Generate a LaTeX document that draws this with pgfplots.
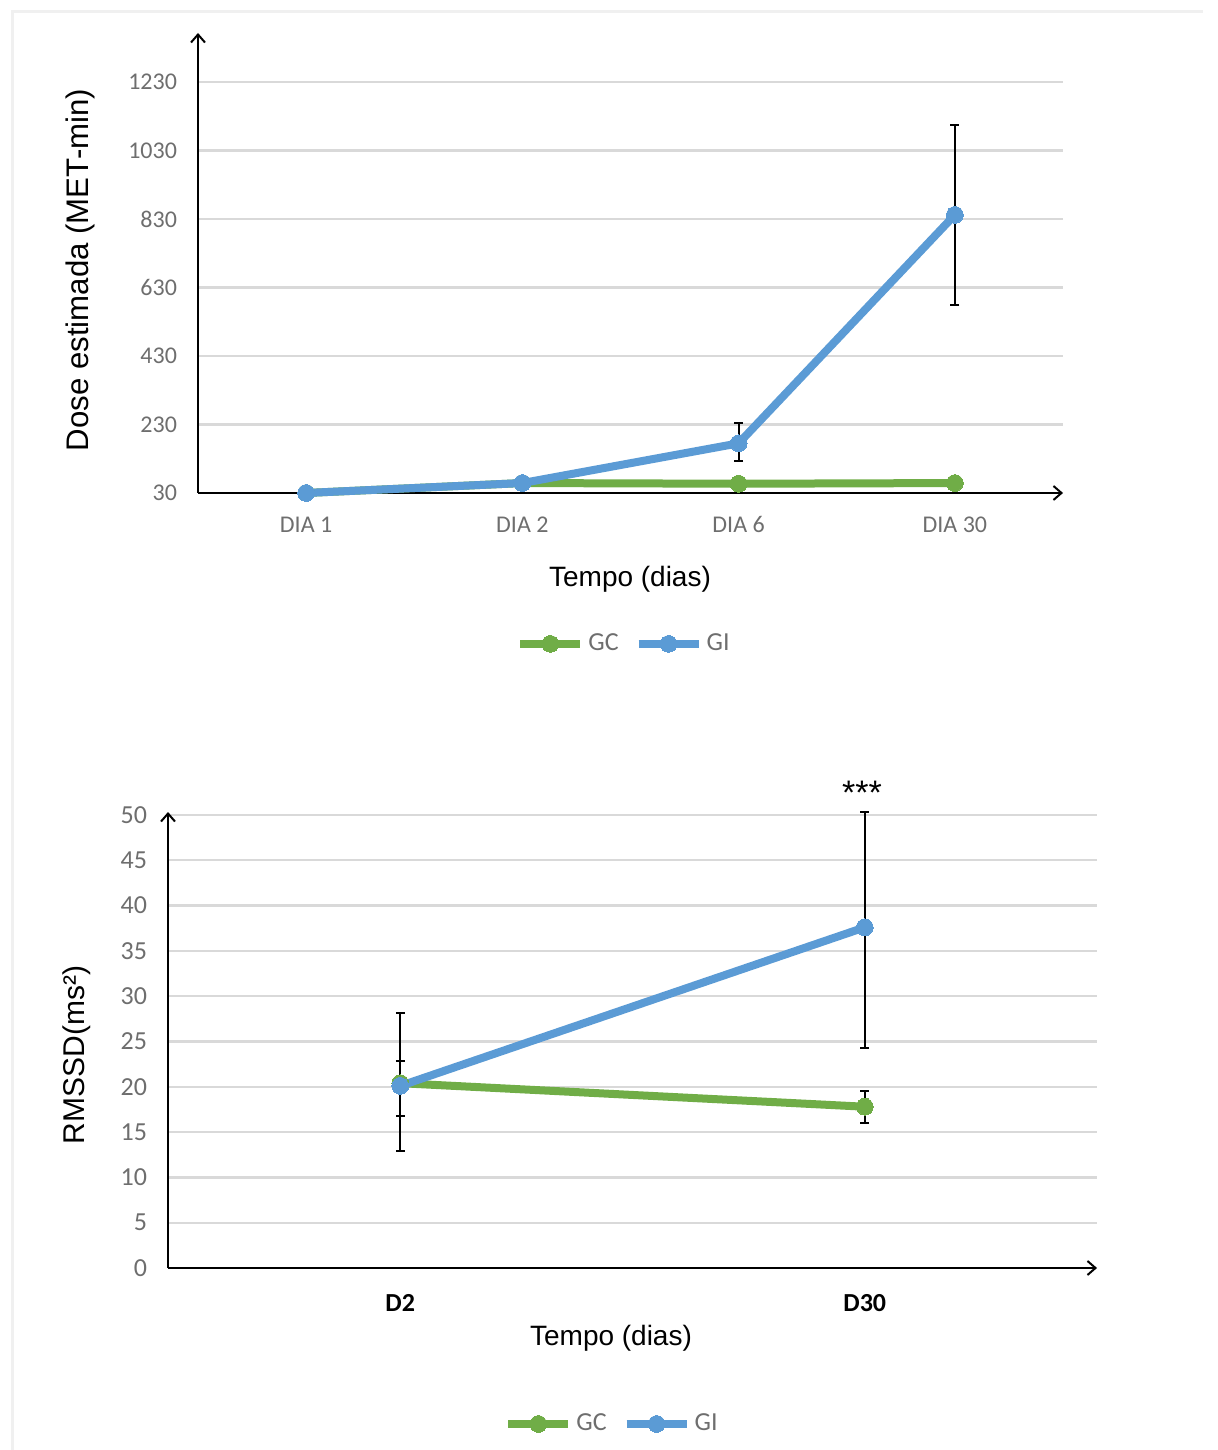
\documentclass[border=0pt]{standalone}
\usepackage{fontspec}
\setmainfont{Carlito}
\newfontfamily\titlefont{Liberation Sans}
\usepackage{pgfplots}
\pgfplotsset{compat=1.18}
\usetikzlibrary{arrows.meta}
\definecolor{gcgreen}{HTML}{70AD47}
\definecolor{giblue}{HTML}{5B9BD5}
\definecolor{ticklab}{HTML}{6E6E6E}
\definecolor{gridc}{HTML}{D9D9D9}
\pgfplotsset{
  mystyle/.style={
    scale only axis,
    axis lines=left,
    axis line style={line width=1pt, black, -{Straight Barb[length=4pt,width=7pt,line width=1pt]}},
    major tick length=0pt,
    ymajorgrids,
    major grid style={gridc, line width=1.2pt},
    /pgf/number format/assume math mode=true,
    /pgf/number format/1000 sep={},
    clip=false,
    legend columns=2,
    legend cell align=left,
    legend style={draw=none, fill=none, anchor=center, font=\fontsize{13}{15}\selectfont, text=ticklab,
      /tikz/every even column/.append style={column sep=6pt}},
    legend image code/.code={\draw[mark repeat=2,mark phase=2,#1] plot coordinates {(0pt,0pt) (15pt,0pt) (30pt,0pt)};},
  },
  gcline/.style={gcgreen, line width=4pt, mark=*, mark size=4.2pt, mark options={draw=gcgreen, fill=gcgreen, line width=0pt}},
  giline/.style={giblue, line width=4pt, mark=*, mark size=4.2pt, mark options={draw=giblue, fill=giblue, line width=0pt}},
  ebars/.style={draw=none, mark=none, forget plot,
    error bars/.cd, y dir=both, y explicit,
    error bar style={draw=black, line width=1pt},
    error mark options={rotate=90, draw=black, mark size=2.2pt, line width=1pt}},
}
\begin{document}
\begin{tikzpicture}
\useasboundingbox (0,0) rectangle (609pt,725pt);
\draw[gray!12, line width=1.5pt] (6pt,0) -- (6pt,719pt) -- (601.5pt,719pt);

% ---------- top chart ----------
\begin{axis}[mystyle,
  at={(99pt,478.5pt)}, anchor=south west,
  width=432.5pt, height=230pt,
  xmin=-0.5, xmax=3.5, ymin=30, ymax=1373,
  xtick={0,1,2,3}, xticklabels={DIA 1, DIA 2, DIA 6, DIA 30},
  ytick={30,230,430,630,830,1030,1230},
  yticklabel style={font=\fontsize{12}{14}\selectfont, text=ticklab, xshift=-7pt},
  xticklabel style={font=\fontsize{12}{14}\selectfont, text=ticklab, text height=8pt, text depth=0pt, yshift=-8pt},
  legend style={at={(0.4936,-0.328)}},
]
\addplot[gcline] coordinates {(0,30) (1,59) (2,57) (3,59)};
\addlegendentry{GC}
\addplot[giline] coordinates {(0,30) (1,59) (2,175) (3,842)};
\addlegendentry{GI}
\addplot[ebars] coordinates {(2,178) +- (0,56) (3,842) +- (0,263)};
\end{axis}
\node[font=\titlefont\fontsize{14}{16}\selectfont] at (315pt,435.5pt) {Tempo (dias)};
\node[font=\titlefont\fontsize{15.6}{18}\selectfont, rotate=90] at (40pt,590pt) {Dose estimada (MET-min)};

% ---------- bottom chart ----------
\begin{axis}[mystyle,
  at={(84pt,91pt)}, anchor=south west,
  width=464.5pt, height=228pt,
  xmin=-0.5, xmax=1.5, ymin=0, ymax=50.33,
  xtick={0,1}, xticklabels={\textbf{D2}, \textbf{D30}},
  ytick={0,5,...,50},
  yticklabel style={font=\fontsize{13}{15}\selectfont, text=ticklab, xshift=-7pt},
  xticklabel style={font=\fontsize{13}{15}\selectfont, text=black, text height=8.5pt, text depth=0pt, yshift=-9.5pt},
  legend style={at={(0.479,-0.342)}},
]
\addplot[gcline] coordinates {(0,20.4) (1,17.8)};
\addlegendentry{GC}
\addplot[giline] coordinates {(0,20.1) (1,37.6)};
\addlegendentry{GI}
\addplot[ebars] coordinates {(0,19.8) +- (0,3.0) (1,17.75) +- (0,1.75)};
\addplot[ebars] coordinates {(0,20.5) +- (0,7.6) (1,37.3) +- (0,13.0)};
\end{axis}
\node[font=\titlefont\fontsize{14}{16}\selectfont] at (305.5pt,56pt) {Tempo (dias)};
\node[font=\titlefont\fontsize{15}{17}\selectfont, rotate=90] at (38.5pt,197.5pt) {RMSSD(ms²)};
\node[font=\titlefont\fontsize{17}{19}\selectfont, anchor=base] at (431pt,322.5pt) {***};
\end{tikzpicture}
\end{document}
